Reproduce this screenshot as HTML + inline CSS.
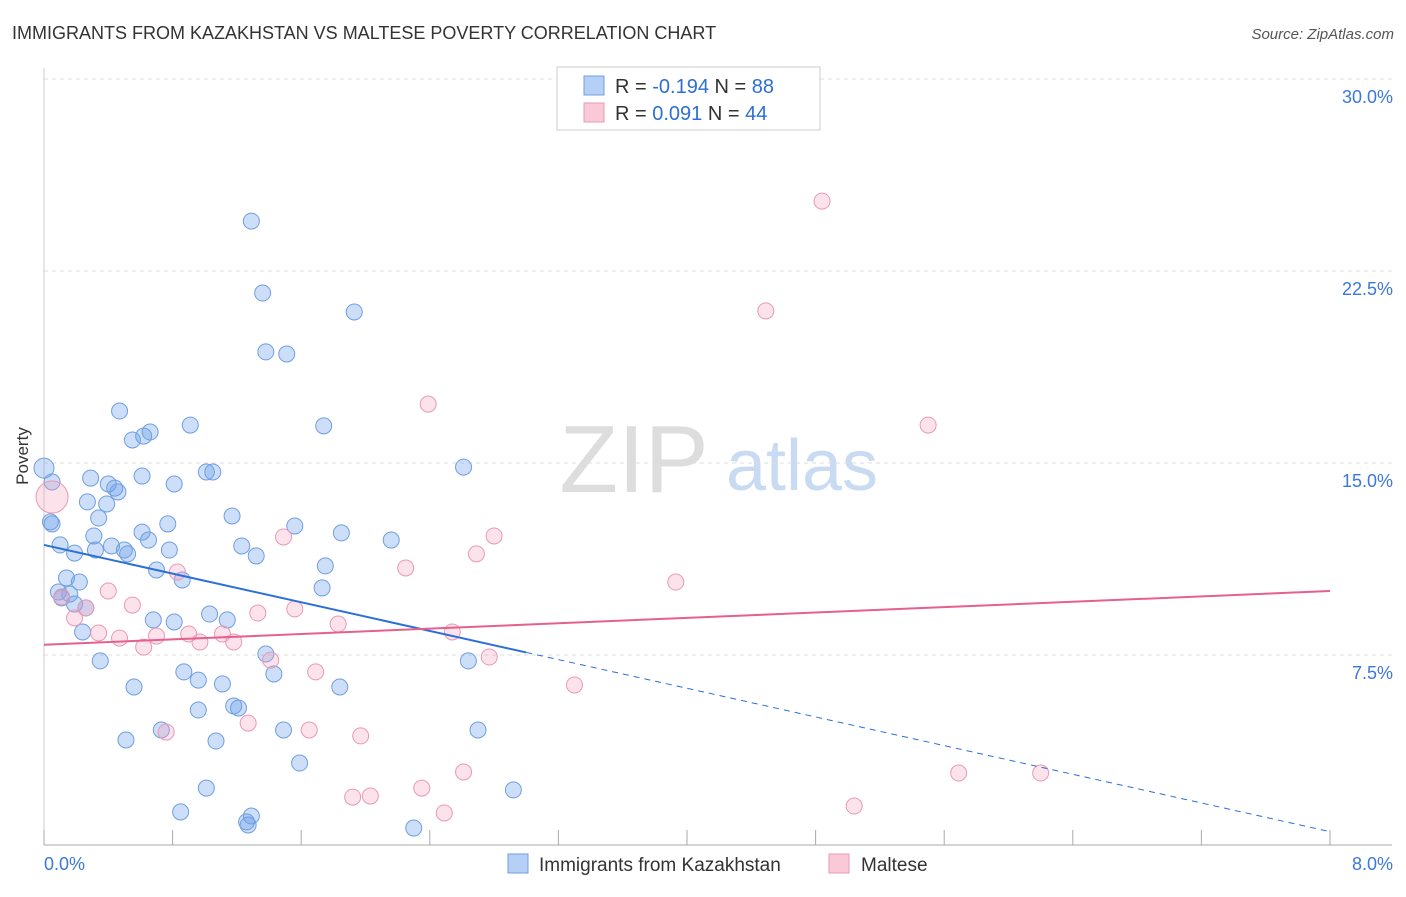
<!DOCTYPE html>
<html><head><meta charset="utf-8"><style>
body{margin:0;background:#fff;font-family:"Liberation Sans",sans-serif;}
svg text{font-family:"Liberation Sans",sans-serif;}
</style></head><body>
<svg width="1406" height="892" viewBox="0 0 1406 892" xmlns="http://www.w3.org/2000/svg">
<text x="12" y="39" font-size="18" fill="#333">IMMIGRANTS FROM KAZAKHSTAN VS MALTESE POVERTY CORRELATION CHART</text>
<text x="1394" y="39" font-size="15" fill="#555" font-style="italic" text-anchor="end">Source: ZipAtlas.com</text>
<g>
<text x="634" y="492" font-size="96" fill="#ddd" text-anchor="middle" font-family="Liberation Serif">ZIP</text>
<text x="802" y="490" font-size="72" fill="#c9dbf2" text-anchor="middle">atlas</text>
</g>
<g id="grid"></g>
<g id="axes"></g>
<g id="pts"></g>
<g id="lines"></g>
<text x="28" y="456" font-size="17" fill="#333" text-anchor="middle" transform="rotate(-90 28 456)">Poverty</text>
<g>
<rect x="557" y="67" width="263" height="63" fill="#fff" stroke="#ccc"/>
<rect x="584" y="76" width="20" height="19" fill="#b5cff5" stroke="#6f9fe0"/>
<text x="615" y="93" font-size="20" fill="#333">R = <tspan fill="#2c6fd6">-0.194</tspan>   N = <tspan fill="#2c6fd6">88</tspan></text>
<rect x="584" y="103" width="20" height="19" fill="#f9c9d8" stroke="#e89ab5"/>
<text x="615" y="120" font-size="20" fill="#333">R =  <tspan fill="#2c6fd6">0.091</tspan>   N = <tspan fill="#2c6fd6">44</tspan></text>
</g>
<g>
<rect x="508" y="854" width="20" height="19" fill="#b5cff5" stroke="#6f9fe0"/>
<text x="539" y="871" font-size="19" fill="#333">Immigrants from Kazakhstan</text>
<rect x="829" y="854" width="20" height="19" fill="#f9c9d8" stroke="#e89ab5"/>
<text x="861" y="871" font-size="19" fill="#333">Maltese</text>
</g>
</svg>
<script>
const yTicks=[7.5,15.0,22.5,30.0];
const xTickLabels=["0.0%","8.0%"];
const blueX=[0.00,0.05,0.04,0.05,0.10,0.19,0.14,0.22,0.09,0.16,0.11,0.19,0.26,0.24,0.35,0.29,0.27,0.34,0.31,0.32,0.40,0.39,0.46,0.44,0.42,0.50,0.52,0.47,0.55,0.62,0.66,0.61,0.61,0.65,0.70,0.77,0.78,0.81,0.86,0.91,1.01,1.05,0.68,0.81,1.03,1.14,1.17,1.23,1.32,1.29,1.36,1.38,1.51,1.93,1.74,1.56,1.85,1.75,1.73,2.16,2.61,0.87,0.96,1.11,1.21,1.18,1.38,1.43,1.84,0.56,0.96,0.73,0.51,1.07,1.49,1.59,1.01,0.85,1.29,1.26,1.27,2.30,2.92,2.70,2.64];
const blueY=[14.80,14.26,12.70,12.62,11.80,11.48,10.51,10.35,9.96,9.88,9.73,9.49,9.34,8.40,7.27,14.41,13.48,12.85,12.15,11.60,14.18,13.40,13.87,14.02,11.76,11.60,11.45,17.03,15.90,16.05,16.21,14.49,12.30,11.99,10.82,12.62,11.60,14.18,10.43,16.48,14.65,14.65,8.87,8.79,9.10,8.87,12.93,11.76,11.37,24.45,21.64,19.34,19.26,20.90,16.45,12.54,12.27,10.98,10.12,11.99,14.84,6.84,6.52,6.37,5.43,5.51,7.54,6.76,6.25,6.25,5.35,4.57,4.18,4.14,4.57,3.28,2.30,1.37,1.21,0.98,0.86,0.74,2.23,4.57,7.27];
const pinkX=[0.05,0.11,0.19,0.26,0.34,0.40,0.47,0.55,0.62,0.70,0.76,0.83,0.90,0.97,1.11,1.18,1.27,1.33,1.41,1.49,1.56,1.69,1.65,1.83,1.97,1.92,2.03,2.25,2.39,2.35,2.49,2.54,2.61,2.69,2.77,2.80,3.30,3.93,4.49,4.84,5.50,5.69,6.20,5.04];
const pinkY=[13.67,9.77,8.95,9.34,8.36,10.00,8.16,9.45,7.81,8.24,4.49,10.74,8.32,8.01,8.32,8.01,4.84,9.14,7.30,12.11,9.30,6.84,4.57,8.71,4.34,1.95,1.99,10.90,17.30,2.30,1.33,8.40,2.93,11.45,7.42,12.15,6.33,10.35,20.94,25.23,16.48,2.89,2.89,1.60];
const blueTrend=[0,11.8,3.0,7.6,8.0,0.6];
const pinkTrend=[0,7.9,8.0,10.0];
const X=v=>44+v/8*1286, Y=v=>847-v*25.6;
const NS="http://www.w3.org/2000/svg";
function mk(t,a,p){const e=document.createElementNS(NS,t);for(const k in a)e.setAttribute(k,a[k]);document.getElementById(p).appendChild(e);return e;}
yTicks.forEach(t=>{
 const l=mk('line',{x1:44,x2:1392,y1:Y(t),y2:Y(t),stroke:'#ddd','stroke-dasharray':'4,4'},'grid');
 
 
 const tx=mk('text',{x:1393,y:Y(t)+24,'font-size':18,fill:'#3b78d8','text-anchor':'end'},'axes');
 tx.textContent=t.toFixed(1)+'%';
 
 
});
const ax=mk('line',{x1:44,x2:1392,y1:845,y2:845,stroke:'#aaa'},'axes');


const ay=mk('line',{x1:44,x2:44,y1:68,y2:845,stroke:'#ccc'},'axes');


for(let i=0;i<=10;i++){const v=i*0.8;
 const t=mk('line',{x1:X(v),x2:X(v),y1:830,y2:845,stroke:'#aaa'},'axes');
 
 
}
[[0,44,'start'],[8,1393,'end']].forEach((a,i)=>{
 const t=mk('text',{x:a[1],y:870,'font-size':18,fill:'#3b78d8','text-anchor':a[2]},'axes');
 t.textContent=xTickLabels[i];
 
 
});
blueX.forEach((x,i)=>{
 const c=mk('circle',{cx:X(x),cy:Y(blueY[i]),r:i==0?10:8,fill:'rgba(110,160,235,0.35)',stroke:'#6f9fe0','stroke-width':1},'pts');
 
 
});
pinkX.forEach((x,i)=>{
 const c=mk('circle',{cx:X(x),cy:Y(pinkY[i]),r:i==0?16:8,fill:'rgba(245,160,190,0.3)',stroke:'#e89ab5','stroke-width':1},'pts');
 
 
});
const b1=mk('line',{x1:X(blueTrend[0]),y1:Y(blueTrend[1]),x2:X(blueTrend[2]),y2:Y(blueTrend[3]),stroke:'#2c6fd6','stroke-width':2},'lines');


const b2=mk('line',{x1:X(blueTrend[2]),y1:Y(blueTrend[3]),x2:X(blueTrend[4]),y2:Y(blueTrend[5]),stroke:'#2c6fd6','stroke-width':1,'stroke-dasharray':'6,5'},'lines');


const p1=mk('line',{x1:X(pinkTrend[0]),y1:Y(pinkTrend[1]),x2:X(pinkTrend[2]),y2:Y(pinkTrend[3]),stroke:'#e5608e','stroke-width':2},'lines');


</script>
</body></html>
